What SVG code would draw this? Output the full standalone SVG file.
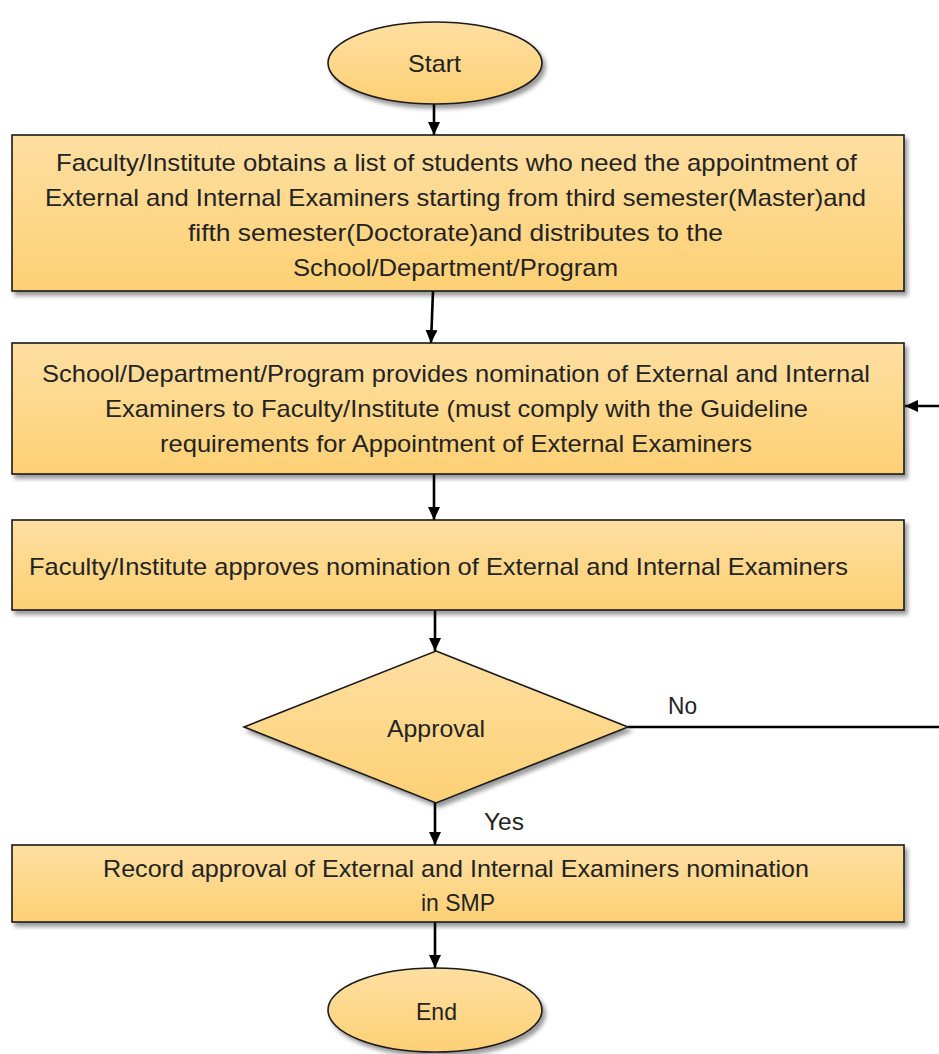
<svg xmlns="http://www.w3.org/2000/svg" width="939" height="1054" viewBox="0 0 939 1054">
  <style>
    .shape { fill: url(#fillGrad); stroke: #1a1a1a; stroke-width: 1.6; filter: url(#shadow); }
    .label { font-family: "Liberation Sans", Arial, sans-serif; font-size: 24px; fill: #232323; }
    .edge { fill: none; stroke: #000; stroke-width: 2.6; }
    .edge-label { font-family: "Liberation Sans", Arial, sans-serif; font-size: 23px; fill: #232323; }
  </style>
  <defs>
    <linearGradient id="fillGrad" x1="0" y1="0" x2="0" y2="1">
      <stop offset="0" stop-color="#FEDFA2"/>
      <stop offset="1" stop-color="#FDD074"/>
    </linearGradient>
    <filter id="shadow" x="-5%" y="-10%" width="115%" height="130%">
      <feDropShadow dx="3" dy="4" stdDeviation="2.2" flood-color="#000" flood-opacity="0.4"/>
    </filter>
    <marker id="arrow" markerUnits="userSpaceOnUse" markerWidth="14" markerHeight="12" refX="13" refY="6" orient="auto">
      <path d="M0,0 L13,6 L0,12 z" fill="#000"/>
    </marker>
  </defs>

  <!-- connectors -->
  <g id="connectors">
    <path class="edge" d="M434,104 V135" marker-end="url(#arrow)"/>
    <path class="edge" d="M433,291 L431,343" marker-end="url(#arrow)"/>
    <path class="edge" d="M434,474 V520" marker-end="url(#arrow)"/>
    <path class="edge" d="M435,610 V651" marker-end="url(#arrow)"/>
    <path class="edge" d="M435,803 V845" marker-end="url(#arrow)"/>
    <path class="edge" d="M435,922 V968" marker-end="url(#arrow)"/>
    <path class="edge" d="M628,727 H960 V406 H905" marker-end="url(#arrow)"/>
    <text class="edge-label" x="668" y="714" textLength="29" lengthAdjust="spacingAndGlyphs">No</text>
    <text class="edge-label" x="484" y="830" textLength="40" lengthAdjust="spacingAndGlyphs">Yes</text>
  </g>

  <!-- start terminator -->
  <g id="start">
    <ellipse class="shape" cx="435" cy="63" rx="107" ry="41"/>
    <text class="label" x="408" y="72" textLength="53" lengthAdjust="spacingAndGlyphs">Start</text>
  </g>

  <!-- list of students -->
  <g id="obtain-list">
    <rect class="shape" x="12" y="135" width="892" height="156"/>
    <text class="label" x="56" y="171" textLength="801" lengthAdjust="spacingAndGlyphs">Faculty/Institute obtains a list of students who need the appointment of</text>
    <text class="label" x="45" y="206" textLength="821" lengthAdjust="spacingAndGlyphs">External and Internal Examiners starting from third semester(Master)and</text>
    <text class="label" x="188" y="241" textLength="535" lengthAdjust="spacingAndGlyphs">fifth semester(Doctorate)and distributes to the</text>
    <text class="label" x="293" y="276" textLength="325" lengthAdjust="spacingAndGlyphs">School/Department/Program</text>
  </g>

  <!-- nomination -->
  <g id="nominate">
    <rect class="shape" x="12" y="343" width="892" height="131"/>
    <text class="label" x="42" y="382" textLength="828" lengthAdjust="spacingAndGlyphs">School/Department/Program provides nomination of External and Internal</text>
    <text class="label" x="105" y="417" textLength="703" lengthAdjust="spacingAndGlyphs">Examiners to Faculty/Institute (must comply with the Guideline</text>
    <text class="label" x="160" y="452" textLength="592" lengthAdjust="spacingAndGlyphs">requirements for Appointment of External Examiners</text>
  </g>

  <!-- faculty approval -->
  <g id="faculty-approves">
    <rect class="shape" x="12" y="520" width="892" height="90"/>
    <text class="label" x="29" y="575" textLength="819" lengthAdjust="spacingAndGlyphs">Faculty/Institute approves nomination of External and Internal Examiners</text>
  </g>

  <!-- decision -->
  <g id="approval">
    <polygon class="shape" points="436,651 628,727 436,803 244,727"/>
    <text class="label" x="387" y="737" textLength="98" lengthAdjust="spacingAndGlyphs">Approval</text>
  </g>

  <!-- record in SMP -->
  <g id="record">
    <rect class="shape" x="12" y="845" width="892" height="77"/>
    <text class="label" x="103" y="877" textLength="706" lengthAdjust="spacingAndGlyphs">Record approval of External and Internal Examiners nomination</text>
    <text class="label" x="421" y="911" textLength="74" lengthAdjust="spacingAndGlyphs">in SMP</text>
  </g>

  <!-- end terminator -->
  <g id="end">
    <ellipse class="shape" cx="435" cy="1010" rx="107" ry="42"/>
    <text class="label" x="416" y="1020" textLength="41" lengthAdjust="spacingAndGlyphs">End</text>
  </g>
</svg>
